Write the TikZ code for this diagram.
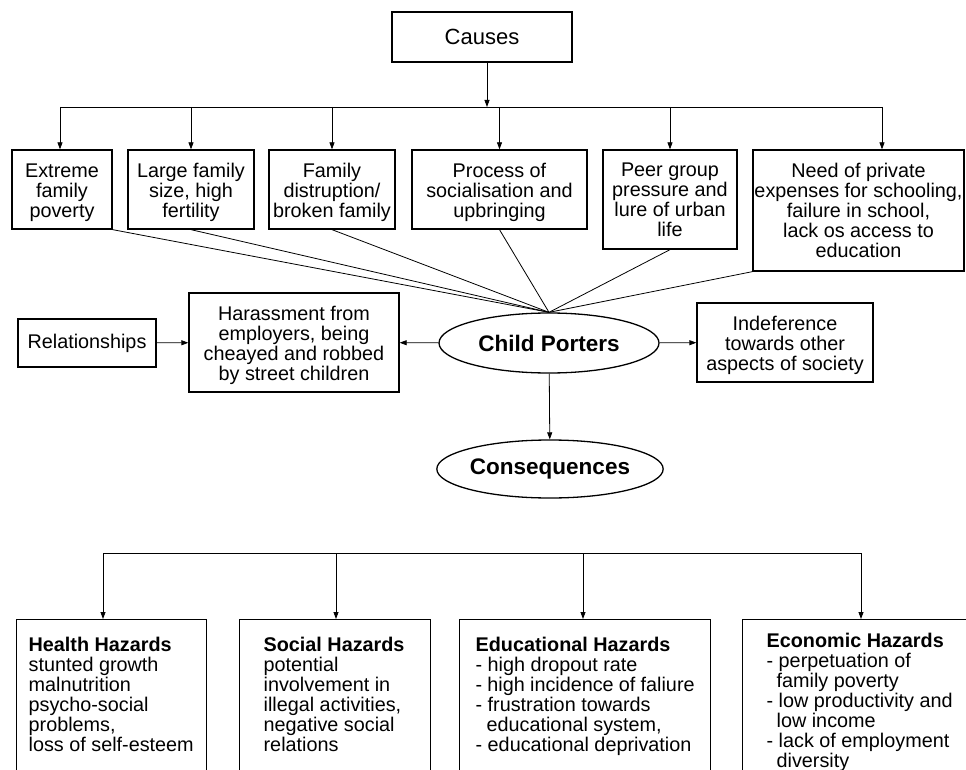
\documentclass[tikz,border=0pt]{standalone}
\usepackage{fontspec}
\setmainfont{Liberation Sans}
\usetikzlibrary{shapes.geometric,arrows.meta}
\newcommand{\tstrut}{\rule{0pt}{20pt}}
\begin{document}
\begin{tikzpicture}[x=1pt,y=-1pt,
  every node/.style={font=\fontsize{19.8}{20}\selectfont},
  cbox/.style={draw, line width=1.3pt, inner sep=0pt, align=center},
  ell/.style={draw, ellipse, line width=1.3pt, inner sep=0pt, font=\fontsize{22.5}{24}\selectfont\bfseries},
  hbox/.style={draw, line width=1.3pt, anchor=north west, inner ysep=17pt},
  ln/.style={line width=0.8pt},
  arr/.style={line width=0.8pt, -{Triangle[length=7pt,width=5pt]}}]
\useasboundingbox (0,0) rectangle (966,770);
\clip (0,0) rectangle (966,770);

% top
\node[cbox, minimum width=180pt, minimum height=50pt, font=\fontsize{22}{24}\selectfont] (causes) at (482,37) {Causes};

\node[cbox, minimum width=100pt, minimum height=79pt] (c1) at (62,189.5) {\tstrut Extreme\\family\\poverty};
\node[cbox, minimum width=126pt, minimum height=79pt] (c2) at (191,189.5) {\tstrut Large family\\size, high\\fertility};
\node[cbox, minimum width=126pt, minimum height=79pt] (c3) at (332,189.5) {\tstrut Family\\distruption/\\broken family};
\node[cbox, minimum width=175pt, minimum height=79pt] (c4) at (499.5,189.5) {\tstrut Process of\\socialisation and\\upbringing};
\node[cbox, minimum width=134pt, minimum height=99pt] (c5) at (670,199.5) {Peer group\\pressure and\\lure of urban\\life};
\node[cbox, minimum width=211pt, minimum height=121pt] (c6) at (858.5,210.5) {Need of private\\expenses for schooling,\\failure in school,\\lack os access to\\education};

% middle
\node[ell, minimum width=220pt, minimum height=60pt] (cp) at (549,343) {Child Porters};
\node[cbox, minimum width=138pt, minimum height=48pt] (rel) at (87,343) {Relationships};
\node[cbox, minimum width=210pt, minimum height=99pt] (har) at (294,342.5) {\tstrut Harassment from\\employers, being\\cheayed and robbed\\by street children};
\node[cbox, minimum width=176pt, minimum height=79pt] (ind) at (785,342.5) {\tstrut Indeference\\towards other\\aspects of society};
\node[ell, minimum width=220pt, minimum height=58pt] (cons) at (550,469) {Consequences};

% bottom hazard boxes
\node[hbox, inner xsep=12pt] (hA) at (16,619) {\parbox[t][150pt][t]{166pt}{\raggedright\textbf{Health Hazards}\\stunted growth\\malnutrition\\psycho-social\\problems,\\loss of self-esteem}};
\node[hbox, inner xsep=24pt] (hB) at (239,619) {\parbox[t][150pt][t]{143pt}{\raggedright\textbf{Social Hazards}\\potential\\involvement in\\illegal activities,\\negative social\\relations}};
\node[hbox, inner xsep=16pt] (hC) at (459,619) {\parbox[t][150pt][t]{219pt}{\raggedright\textbf{Educational Hazards}\\- high dropout rate\\- high incidence of faliure\\- frustration towards\\\hspace*{11pt}educational system,\\- educational deprivation}};
\node[hbox, inner xsep=24pt, inner ysep=13pt] (hD) at (742,619) {\parbox[t][150pt][t]{200pt}{\raggedright\textbf{Economic Hazards}\\- perpetuation of\\\hspace*{10pt}family poverty\\- low productivity and\\\hspace*{10pt}low income\\- lack of employment\\\hspace*{10pt}diversity}};

% top connectors
\coordinate (bt) at (487,107);
\coordinate (bL) at (60,107);
\coordinate (bR) at (882,107);
\draw[arr] (causes.south -| bt) -- (bt);
\draw[ln] (bL) -- (bR);
\draw[arr] (bL) -- (bL |- c1.north);
\draw[arr] (c2.north |- bL) -- (c2.north);
\draw[arr] (c3.north |- bL) -- (c3.north);
\draw[arr] (c4.north |- bL) -- (c4.north);
\draw[arr] (c5.north |- bL) -- (c5.north);
\draw[arr] (bR) -- (bR |- c6.north);

% converging lines
\foreach \s in {c1.south east, c2.south, c3.south, c4.south, c5.south, c6.south west}
  \draw[ln] (\s) -- (cp.north);

% middle arrows
\draw[arr] (rel) -- (har);
\draw[arr] (cp) -- (har);
\draw[arr] (cp) -- (ind);
\draw[arr] (cp) -- (cons);

% bottom bus
\coordinate (dA) at (103,553);
\coordinate (dB) at (336,553);
\coordinate (dC) at (583,553);
\coordinate (dD) at (861,553);
\draw[ln] (dA) -- (dD);
\draw[arr] (dA) -- (dA |- hA.north);
\draw[arr] (dB) -- (dB |- hB.north);
\draw[arr] (dC) -- (dC |- hC.north);
\draw[arr] (dD) -- (dD |- hD.north);
\end{tikzpicture}
\end{document}
